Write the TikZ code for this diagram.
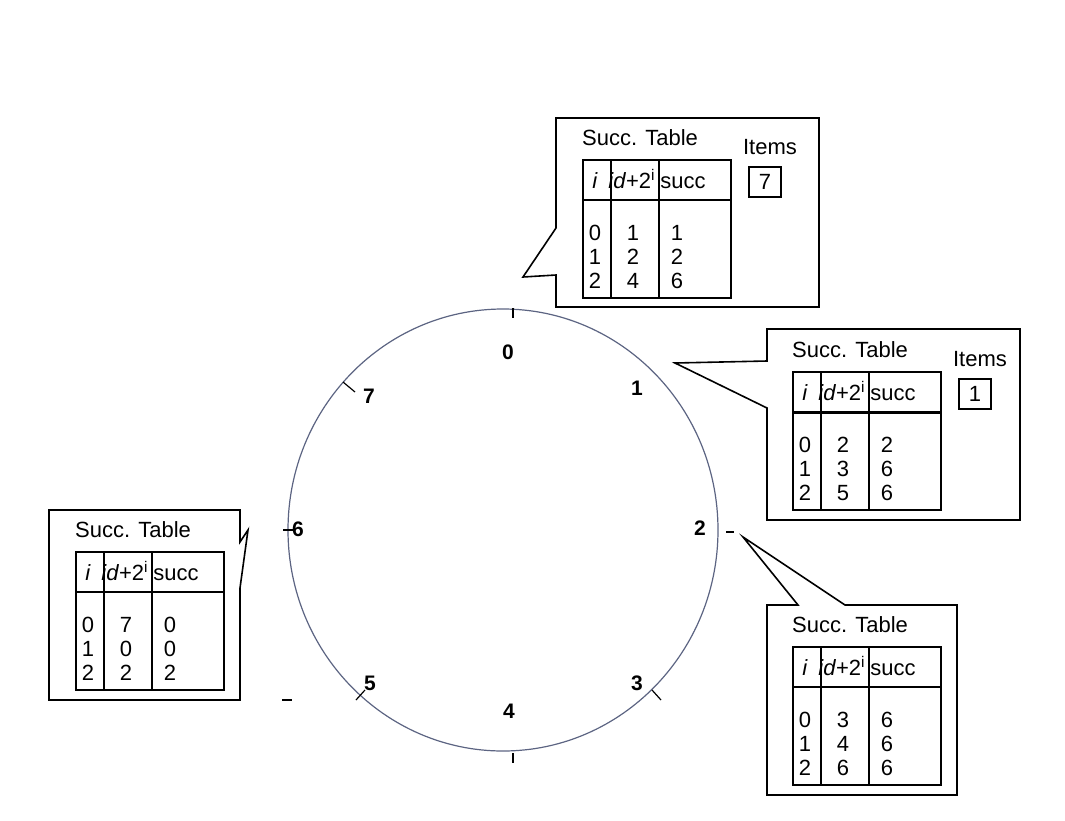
\documentclass[tikz,border=0pt]{standalone}
\usepackage{fontspec}
\setmainfont{Liberation Sans}
\usetikzlibrary{calc,positioning}
\definecolor{ringblue}{RGB}{92,100,130}
\tikzset{
  cell/.style={inner sep=0pt, font=\fontsize{11}{13}\selectfont},
  headcell/.style={cell, anchor=base},
  ringlbl/.style={inner sep=0pt, font=\fontsize{10.5}{12}\selectfont\bfseries},
  boxline/.style={line width=0.8pt},
}
% one successor table, drawn in a shifted scope: #1 name, #2 id column, #3 succ column
\newcommand{\succtab}[3]{%
  \draw[boxline] (0,0) rectangle (148,138);
  \draw[boxline] (0,40) -- (148,40);
  \draw[boxline] (28,0) -- (28,138) (76,0) -- (76,138);
  \node[cell] (#1-title) at (57,-22) {Succ. Table};
  \node[headcell] (#1-hi) at (12,28) {\textit{i}};
  \node[headcell] (#1-hid) at (49,28) {\textit{id}+2\textsuperscript{i}};
  \node[headcell] (#1-hs) at (100,28) {succ};
  \foreach \v [count=\k from 0] in {#2} {
    \node[cell] (#1-i\k) at (12,73+24*\k) {\k};
    \node[cell] (#1-a\k) at (50,73+24*\k) {\v};
  }
  \foreach \v [count=\k from 0] in {#3}
    \node[cell] (#1-s\k) at (94,73+24*\k) {\v};
}
\newcommand{\itembox}[2]{%
  \node[cell] (#1-items) at (187,-13) {Items};
  \draw[boxline] (166,7) rectangle (198,37);
  \node[cell] (#1-item) at (182,22) {#2};
}

\begin{document}
\begin{tikzpicture}[x=0.5pt,y=-0.5pt]
\useasboundingbox (0,0) rectangle (1065,820);
% the ring
\draw[ringblue, line width=0.6pt] (503,530) ellipse [x radius=215, y radius=221];
\foreach \k/\x/\y in {0/508/352, 1/637/388, 2/700/528, 3/637/683,
                      4/509/711, 5/370/683, 6/298/529, 7/369/396}
  \node[ringlbl] (n\k) at (\x,\y) {\k};
% ticks
\draw[line width=0.6pt] (513,308) -- (513,318);
\draw[line width=0.6pt] (726,532) -- (734,532);
\draw[line width=0.6pt] (652,690) -- (661,700);
\draw[line width=0.6pt] (513,753) -- (513,763);
\draw[line width=0.6pt] (356,700) -- (365,690);
\draw[line width=0.6pt] (283,530) -- (293,530);
\draw[line width=0.6pt] (343,382) -- (355,392);
\draw[line width=0.6pt] (282,700) -- (292,700);

% callout tips
\coordinate (tip0) at (523,277);
\coordinate (tip1) at (675,363);
\coordinate (tip3) at (743,537);
\coordinate (tip6) at (248,530);

% callout outlines
\draw[boxline] (556,228) -- (tip0) -- (556,275) -- (556,307) -- (819,307)
  -- (819,118) -- (556,118) -- cycle;
\draw[boxline] (767,361) -- (tip1) -- (767,408) -- (767,520) -- (1020,520)
  -- (1020,329) -- (767,329) -- cycle;
\draw[boxline] (798,605) -- (tip3) -- (845,605) -- (957,605) -- (957,795)
  -- (767,795) -- (767,605) -- cycle;
\draw[boxline] (240,542) -- (tip6) -- (240,588) -- (240,700) -- (49,700)
  -- (49,510) -- (240,510) -- cycle;

% tables
\begin{scope}[shift={(583,160)}]
  \succtab{t0}{1,2,4}{1,2,6}
  \itembox{t0}{7}
\end{scope}
\begin{scope}[shift={(793,372)}]
  \succtab{t1}{2,3,5}{2,6,6}
  \draw[line width=1.5pt] (0,40) -- (148,40);
  \itembox{t1}{1}
\end{scope}
\begin{scope}[shift={(793,647)}]
  \succtab{t3}{3,4,6}{6,6,6}
\end{scope}
\begin{scope}[shift={(76,552)}]
  \succtab{t6}{7,0,2}{0,0,2}
\end{scope}
\end{tikzpicture}
\end{document}
